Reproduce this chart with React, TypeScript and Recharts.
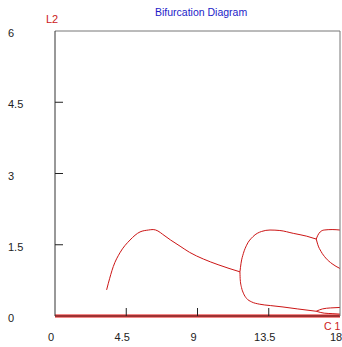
import { LineChart, Line, XAxis, YAxis } from 'recharts';

const X_TICKS = [0, 4.5, 9, 13.5, 18];
const Y_TICKS = [0, 1.5, 3, 4.5, 6];

// trivial equilibrium along the C1 axis
const baseline: [number, number][] = [[0, 0], [18, 0]];

// first branch, born near C1 = 3.2
const branchA: [number, number][] = [
    [3.26, 0.55], [3.37, 0.69], [3.68, 1.04], [4.1, 1.33], [4.74, 1.6], [5.37, 1.77],
    [5.9, 1.81], [6.2, 1.82], [6.5, 1.79], [6.8, 1.72], [7.3, 1.6], [7.9, 1.47],
    [8.5, 1.34], [9.37, 1.2], [10.3, 1.08], [11.68, 0.93]
];

// period doubling at C1 = 11.7
const branchBUpper: [number, number][] = [
    [11.68, 0.93], [11.75, 1.11], [11.9, 1.32], [12.1, 1.49], [12.5, 1.67], [13.05, 1.78],
    [13.58, 1.81], [14.2, 1.8], [15.05, 1.74], [15.9, 1.68], [16.5, 1.62]
];
const branchBLower: [number, number][] = [
    [11.68, 0.93], [11.7, 0.76], [11.78, 0.6], [11.9, 0.48], [12.1, 0.37], [12.4, 0.3],
    [12.9, 0.25], [13.6, 0.22], [14.4, 0.19], [15.3, 0.15], [16.5, 0.1]
];

// second doubling at C1 = 16.5
const upperHigh: [number, number][] = [
    [16.5, 1.62], [16.6, 1.7], [16.75, 1.77], [17.0, 1.81], [17.5, 1.82], [18, 1.81]
];
const upperLow: [number, number][] = [
    [16.5, 1.62], [16.6, 1.5], [16.8, 1.36], [17.1, 1.22], [17.5, 1.1], [18, 1.0]
];
const lowerHigh: [number, number][] = [
    [16.5, 0.1], [16.9, 0.15], [17.4, 0.17], [18, 0.18]
];
const lowerLow: [number, number][] = [
    [16.5, 0.1], [17.0, 0.06], [17.5, 0.05], [18, 0.04]
];

const branches = [branchA, branchBUpper, branchBLower, upperHigh, upperLow, lowerHigh, lowerLow];

const toRows = (pts: [number, number][]) => pts.map(([x, y]) => ({ x, y }));

const FONT = 'Arial, "Liberation Sans", sans-serif';
const TICK_COLOR = '#222';
const TICK_LEN = 8;

const BottomTick = ({ x, y, payload }: any) => (
    <g>
        {payload.value > 0 && payload.value < 18 && (
            <line x1={x} x2={x} y1={y} y2={y - TICK_LEN} stroke={TICK_COLOR} />
        )}
        <text x={x - 4} y={y + 25} textAnchor="middle" fontSize={11} fontFamily={FONT} fill={TICK_COLOR}>
            {payload.value}
        </text>
    </g>
);

const TopTick = ({ x, y, payload }: any) =>
    payload.value > 0 && payload.value < 18 ? (
        <line x1={x} x2={x} y1={y} y2={y + TICK_LEN} stroke={TICK_COLOR} />
    ) : (
        <g />
    );

const LeftTick = ({ x, y, payload }: any) => (
    <g>
        {payload.value > 0 && payload.value < 6 && (
            <line x1={x} x2={x + TICK_LEN} y1={y} y2={y} stroke={TICK_COLOR} />
        )}
        <text x={x - 47} y={y + 6} textAnchor="start" fontSize={11} fontFamily={FONT} fill={TICK_COLOR}>
            {payload.value}
        </text>
    </g>
);

const RightTick = ({ x, y, payload }: any) =>
    payload.value > 0 && payload.value < 6 ? (
        <line x1={x} x2={x - TICK_LEN} y1={y} y2={y} stroke={TICK_COLOR} />
    ) : (
        <g />
    );

export default function App() {
    return (
        <div style={{ position: 'absolute', left: 0, top: 0, width: 342, height: 347, background: '#fff', fontFamily: FONT }}>
            <div style={{ position: 'absolute', left: 155, top: 6, fontSize: 10.5, color: '#1c1cc8', whiteSpace: 'nowrap' }}>
                Bifurcation Diagram
            </div>
            <div style={{ position: 'absolute', left: 46, top: 13, fontSize: 11, color: '#cc2020' }}>L2</div>
            <div style={{ position: 'absolute', left: 324, top: 320, fontSize: 10.5, color: '#cc2020', whiteSpace: 'nowrap' }}>
                C 1
            </div>
            <LineChart width={342} height={347} margin={{ top: 30, right: 1, bottom: 30, left: 54 }}>
                <XAxis
                    xAxisId="bottom"
                    dataKey="x"
                    type="number"
                    domain={[0, 18]}
                    ticks={X_TICKS}
                    height={1}
                    tickSize={0}
                    tickMargin={0}
                    tickLine={false}
                    axisLine={{ stroke: '#555' }}
                    tick={<BottomTick />}
                    interval={0}
                />
                <XAxis
                    xAxisId="top"
                    orientation="top"
                    dataKey="x"
                    type="number"
                    domain={[0, 18]}
                    ticks={X_TICKS}
                    height={1}
                    tickSize={0}
                    tickMargin={0}
                    tickLine={false}
                    axisLine={{ stroke: '#777' }}
                    tick={<TopTick />}
                    interval={0}
                />
                <YAxis
                    yAxisId="left"
                    type="number"
                    domain={[0, 6]}
                    ticks={Y_TICKS}
                    width={1}
                    tickSize={0}
                    tickMargin={0}
                    tickLine={false}
                    axisLine={{ stroke: '#333' }}
                    tick={<LeftTick />}
                    interval={0}
                />
                <YAxis
                    yAxisId="right"
                    orientation="right"
                    type="number"
                    domain={[0, 6]}
                    ticks={Y_TICKS}
                    width={1}
                    tickSize={0}
                    tickMargin={0}
                    tickLine={false}
                    axisLine={{ stroke: '#777' }}
                    tick={<RightTick />}
                    interval={0}
                />
                {branches.map((b, i) => (
                    <Line
                        key={`branch-${i}`}
                        xAxisId="bottom"
                        yAxisId="left"
                        data={toRows(b)}
                        dataKey="y"
                        type="monotone"
                        stroke="#cc1515"
                        strokeWidth={1}
                        dot={false}
                        isAnimationActive={false}
                    />
                ))}
                <Line
                    xAxisId="bottom"
                    yAxisId="left"
                    data={toRows(baseline)}
                    dataKey="y"
                    type="linear"
                    stroke="#e81010"
                    strokeWidth={3}
                    dot={false}
                    isAnimationActive={false}
                />
            </LineChart>
        </div>
    );
}
